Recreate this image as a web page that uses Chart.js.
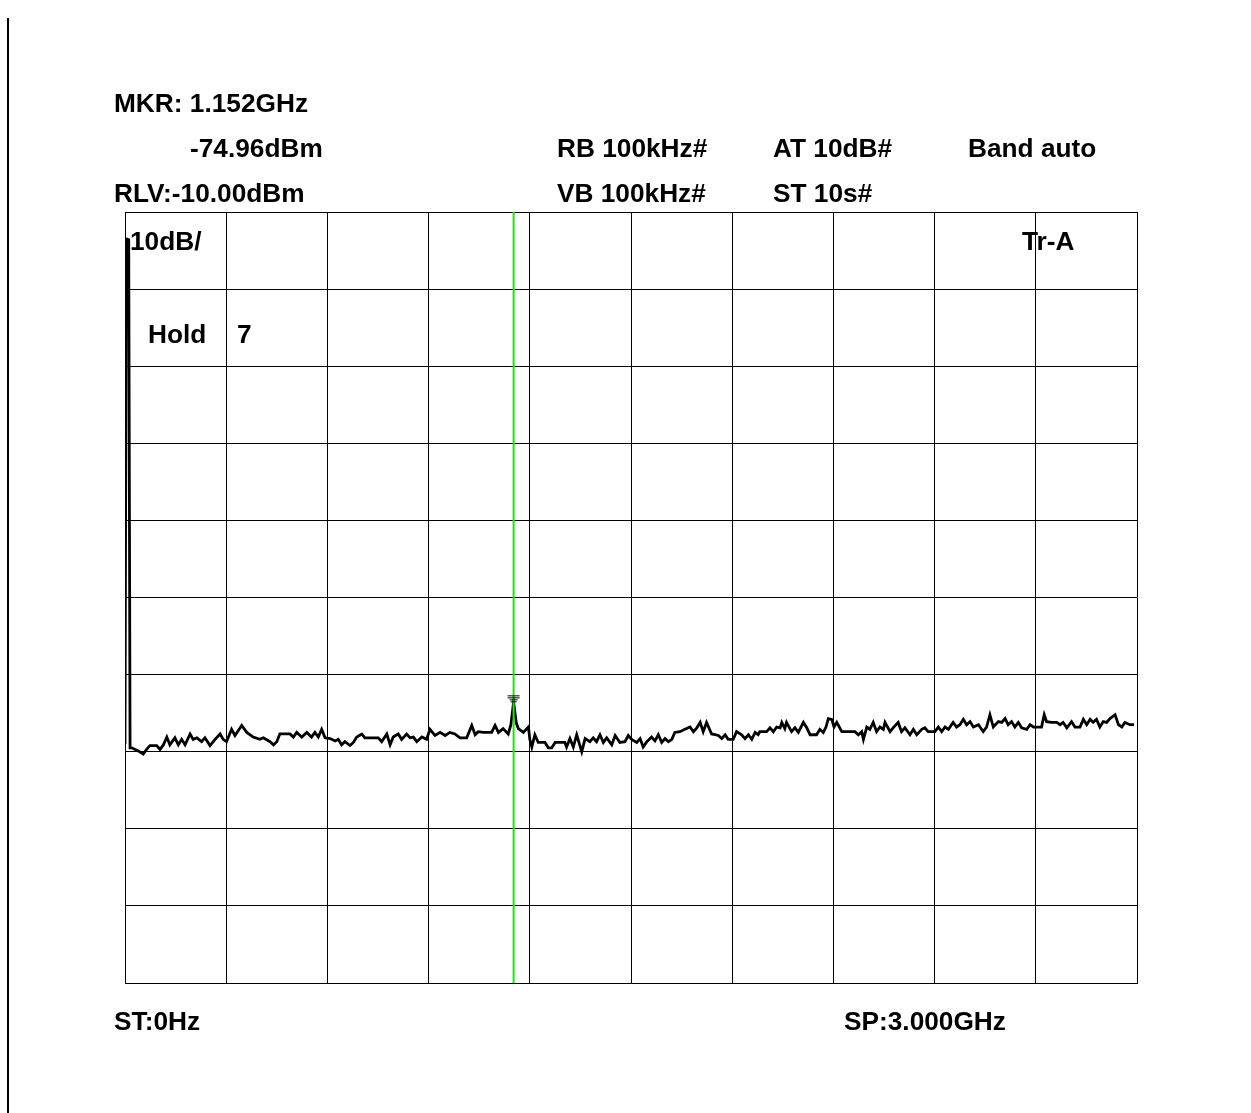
<!DOCTYPE html>
<html>
<head>
<meta charset="utf-8">
<title>Spectrum 0 Hz - 3 GHz</title>
<script src="https://cdn.jsdelivr.net/npm/chart.js@4.4.0/dist/chart.umd.min.js"></script>
<style>
  html, body { margin: 0; padding: 0; background: #fff; }
  #wrap { width: 1251px; height: 1113px; position: relative; }
</style>
</head>
<body>
<div id="wrap"><canvas id="spec" width="1251" height="1113"></canvas></div>
<script>
// Trace A (max hold), frequency in MHz and level in dBm
const freqMHz = [
  0, 4, 11, 15, 20, 30, 39, 54, 64, 74, 94, 104, 114, 124, 133, 148, 158, 168, 178, 193,
  202, 213, 227, 237, 252, 267, 282, 291, 301, 316, 326, 346, 361, 380, 400, 410, 430, 440, 450, 459,
  489, 499, 509, 524, 539, 553, 563, 573, 583, 593, 608, 623, 632, 642, 652, 667, 677, 687, 702, 711,
  751, 761, 776, 786, 795, 810, 820, 835, 845, 855, 865, 880, 894, 904, 919, 934, 949, 963, 978, 993,
  1013, 1028, 1038, 1047, 1062, 1087, 1097, 1107, 1121, 1136, 1144, 1152, 1160, 1166, 1181, 1196, 1200, 1206, 1215, 1225,
  1245, 1255, 1265, 1275, 1304, 1309, 1319, 1329, 1339, 1354, 1364, 1378, 1388, 1398, 1408, 1418, 1428, 1443, 1453, 1467,
  1482, 1492, 1502, 1517, 1527, 1536, 1547, 1561, 1571, 1581, 1591, 1601, 1611, 1621, 1630, 1645, 1660, 1675, 1685, 1695,
  1705, 1714, 1724, 1739, 1749, 1759, 1769, 1779, 1788, 1803, 1813, 1828, 1838, 1848, 1858, 1868, 1877, 1882, 1902, 1912,
  1922, 1932, 1942, 1947, 1956, 1961, 1976, 1986, 1996, 2011, 2021, 2031, 2050, 2060, 2070, 2078, 2085, 2095, 2102, 2110,
  2125, 2164, 2174, 2184, 2189, 2199, 2208, 2218, 2228, 2238, 2248, 2253, 2268, 2277, 2292, 2302, 2312, 2327, 2337, 2347,
  2362, 2371, 2381, 2401, 2411, 2421, 2431, 2441, 2455, 2465, 2475, 2485, 2495, 2505, 2515, 2530, 2544, 2554, 2564, 2574,
  2589, 2599, 2609, 2618, 2628, 2638, 2648, 2658, 2673, 2683, 2693, 2717, 2725, 2732, 2747, 2762, 2772, 2781, 2792, 2806,
  2816, 2831, 2841, 2851, 2861, 2870, 2880, 2890, 2900, 2910, 2920, 2935, 2945, 2955, 2964, 2979, 2991
];
const levelDbm = [
  -79.0, -13.5, -13.6, -79.5, -79.5, -79.7, -79.9, -80.3, -79.7, -79.2, -79.2, -79.7, -79.1, -78.1, -79.1, -78.2, -79.1, -78.4, -79.1, -77.7,
  -78.4, -78.2, -78.7, -78.2, -79.2, -78.4, -77.7, -78.4, -78.7, -77.1, -77.9, -76.6, -77.5, -78.1, -78.4, -78.2, -78.7, -79.1, -78.7, -77.7,
  -77.7, -78.1, -77.5, -78.1, -77.5, -78.1, -77.5, -78.1, -77.1, -78.2, -78.3, -78.6, -78.4, -79.1, -78.7, -79.2, -78.8, -78.1, -77.7, -78.2,
  -78.2, -78.7, -77.7, -79.1, -78.1, -77.7, -78.4, -77.7, -78.2, -78.1, -78.7, -78.1, -78.4, -77.1, -77.9, -77.5, -77.9, -77.5, -77.7, -78.2,
  -78.2, -76.6, -77.8, -77.4, -77.5, -77.5, -76.6, -77.5, -77.0, -77.7, -76.5, -73.6, -76.3, -77.0, -77.5, -76.8, -78.4, -79.4, -77.8, -78.8,
  -78.8, -79.5, -79.5, -78.8, -78.8, -79.4, -78.3, -79.4, -77.8, -80.0, -78.3, -78.7, -78.2, -78.7, -77.8, -78.8, -78.2, -79.1, -77.9, -78.8,
  -78.7, -77.9, -78.4, -78.8, -78.3, -79.4, -78.7, -78.1, -78.6, -77.8, -78.8, -78.3, -78.7, -78.4, -77.5, -77.4, -77.1, -76.8, -77.4, -76.9,
  -76.2, -77.4, -76.2, -77.7, -77.8, -77.9, -78.3, -77.8, -78.4, -78.4, -77.4, -77.8, -78.3, -77.8, -78.4, -77.5, -77.8, -77.4, -77.4, -76.9,
  -77.4, -76.8, -76.9, -76.2, -77.0, -76.2, -77.4, -76.9, -77.5, -76.2, -76.9, -77.8, -77.8, -77.1, -77.5, -76.8, -75.7, -75.8, -76.8, -76.2,
  -77.4, -77.4, -77.8, -77.4, -78.4, -76.8, -77.1, -76.2, -77.4, -76.8, -77.1, -76.2, -77.4, -76.9, -76.2, -77.4, -76.9, -77.8, -77.1, -77.8,
  -77.1, -76.9, -77.4, -77.4, -76.8, -77.4, -76.8, -77.1, -76.2, -76.8, -76.5, -75.8, -76.5, -76.1, -76.8, -76.5, -77.4, -76.8, -75.2, -76.8,
  -76.1, -76.2, -75.7, -76.5, -76.1, -76.8, -76.2, -76.9, -77.1, -76.5, -76.8, -76.8, -75.2, -76.1, -76.2, -76.2, -76.5, -76.2, -76.9, -76.1,
  -76.8, -76.8, -75.8, -76.5, -75.8, -76.2, -75.8, -76.8, -76.1, -76.2, -75.7, -75.2, -76.5, -76.8, -76.2, -76.5, -76.5
];

// Screen divisions: 10 x 300 MHz, 10 x 10 dB from RLV -10 dBm
const xTicks = [0, 300, 600, 900, 1200, 1500, 1800, 2100, 2400, 2700, 3000];
const yTicks = [-110, -100, -90, -80, -70, -60, -50, -40, -30, -20, -10];

// Marker
const markerFreq = 1152;
const markerLevel = -73.6;

// Screen annotations
const FONT = 'bold 25px "Liberation Sans", Arial, sans-serif';
const annotations = [
  { text: 'MKR: 1.152GHz', x: 114, y: 112 },
  { text: '-74.96dBm', x: 190, y: 157 },
  { text: 'RLV:-10.00dBm', x: 114, y: 202 },
  { text: 'RB 100kHz#', x: 557, y: 157 },
  { text: 'VB 100kHz#', x: 557, y: 202 },
  { text: 'AT 10dB#', x: 773, y: 157 },
  { text: 'ST 10s#', x: 773, y: 202 },
  { text: 'Band auto', x: 968, y: 157 },
  { text: '10dB/', x: 130, y: 250 },
  { text: 'Tr-A', x: 1022, y: 250 },
  { text: 'Hold', x: 148, y: 343 },
  { text: '7', x: 237, y: 343 },
  { text: 'ST:0Hz', x: 114, y: 1030 },
  { text: 'SP:3.000GHz', x: 844, y: 1030 }
];

const screenPlugin = {
  id: 'screen',
  afterDatasetsDraw(chart) {
    const { ctx, chartArea, scales } = chart;
    const mx = scales.x.getPixelForValue(markerFreq);
    const my = scales.y.getPixelForValue(markerLevel);
    ctx.save();
    // marker line
    ctx.strokeStyle = '#1fe01f';
    ctx.lineWidth = 2;
    ctx.beginPath();
    ctx.moveTo(mx, chartArea.top);
    ctx.lineTo(mx, chartArea.bottom);
    ctx.stroke();
    // marker glyph above the peak
    ctx.strokeStyle = '#000';
    ctx.lineWidth = 1;
    [[-7, 6], [-5, 6], [-3, 4], [-1, 3]].forEach(([dy, hw]) => {
      ctx.beginPath();
      ctx.moveTo(mx - hw, my + dy + 0.5);
      ctx.lineTo(mx + hw, my + dy + 0.5);
      ctx.stroke();
    });
    ctx.restore();
  },
  afterDraw(chart) {
    const ctx = chart.ctx;
    ctx.save();
    // frame line at the left edge of the screen
    ctx.fillStyle = '#000';
    ctx.fillRect(7, 18, 2, 1095);
    ctx.font = FONT;
    ctx.textBaseline = 'alphabetic';
    annotations.forEach(a => {
      ctx.save();
      ctx.translate(a.x, a.y);
      ctx.scale(1.05, 1);
      ctx.fillText(a.text, 0, 0);
      ctx.restore();
    });
    ctx.restore();
  }
};

new Chart(document.getElementById('spec'), {
  type: 'line',
  data: {
    datasets: [{
      label: 'Tr-A',
      data: freqMHz.map((f, i) => ({ x: f, y: levelDbm[i] })),
      borderColor: '#000',
      borderWidth: 2.8,
      pointRadius: 0,
      tension: 0,
      fill: false
    }]
  },
  options: {
    responsive: false,
    animation: false,
    layout: { padding: { left: 125, top: 212, right: 114, bottom: 130 } },
    plugins: { legend: { display: false }, tooltip: { enabled: false } },
    scales: {
      x: {
        type: 'linear', min: 0, max: 3000,
        afterBuildTicks: s => { s.ticks = xTicks.map(v => ({ value: v })); },
        ticks: { display: false },
        grid: { color: '#000', lineWidth: 1, drawTicks: false },
        border: { display: true, color: '#000', width: 1 }
      },
      y: {
        type: 'linear', min: -110, max: -10,
        afterBuildTicks: s => { s.ticks = yTicks.map(v => ({ value: v })); },
        ticks: { display: false },
        grid: { color: '#000', lineWidth: 1, drawTicks: false },
        border: { display: true, color: '#000', width: 1 }
      }
    }
  },
  plugins: [screenPlugin]
});
</script>
</body>
</html>
